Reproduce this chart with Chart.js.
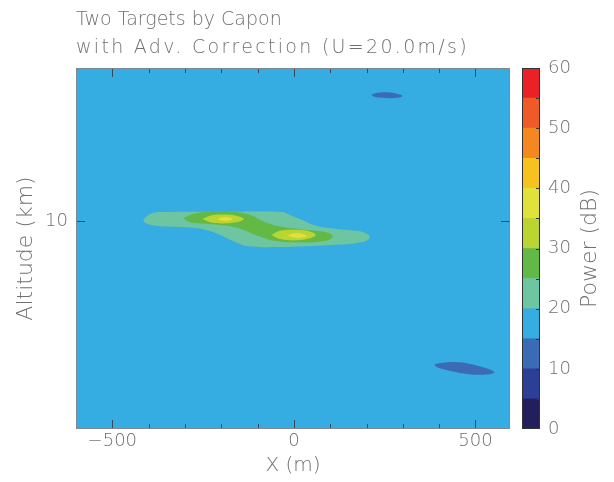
<!DOCTYPE html>
<html>
<head>
<meta charset="utf-8">
<script src="https://cdn.jsdelivr.net/npm/chart.js@4.4.0/dist/chart.umd.min.js"></script>
<style>
html, body { margin: 0; padding: 0; background: #fff; }
#wrap { position: relative; width: 614px; height: 482px; }
#wrap canvas { position: absolute; left: 0; top: 0; }
</style>
</head>
<body>
<div id="wrap">
  <canvas id="mainChart" width="614" height="482"></canvas>
  <canvas id="barChart" width="614" height="482"></canvas>
</div>
<script>
// titles and axes
const titleLines = ["Two Targets by Capon", "with Adv. Correction (U=20.0m/s)"];
const xRange = [-600, 595];
const yRange = [8.85, 10.85];
const xMajorTicks = [-500, 0, 500];
const xMinorTicks = [-400, -300, -200, -100, 100, 200, 300, 400];
const yMajorTicks = [10];

// colour bar: 5 dB levels
const levels = [0, 5, 10, 15, 20, 25, 30, 35, 40, 45, 50, 55];
const levelColors = ["#231f5f", "#2b3f97", "#3a6bb4", "#35ade3", "#6dc6a1", "#63b946",
                     "#bad432", "#e1e13b", "#f5c21f", "#f38820", "#ef5a26", "#ea2226"];
const cbarLabels = [0, 10, 20, 30, 40, 50, 60];

// contour outlines  (x in m, altitude in km)
const band20 = [[-415, 10.008], [-396, 10.041], [-360, 10.052], [-200, 10.053], [-33, 10.052],
                [-11, 10.036], [16, 10.013], [63, 9.975], [146, 9.952], [190, 9.941], [209, 9.914],
                [190, 9.886], [99, 9.869], [-38, 9.858], [-129, 9.864], [-162, 9.886],
                [-223, 9.941], [-272, 9.964], [-376, 9.975], [-409, 9.991]];
const band25 = [[-305, 10.019], [-266, 10.047], [-176, 10.053], [-120, 10.036], [-80, 9.997],
                [-38, 9.972], [25, 9.955], [91, 9.938], [107, 9.914], [80, 9.890], [8, 9.884],
                [-58, 9.895], [-102, 9.922], [-157, 9.965], [-223, 9.984], [-286, 9.995]];
const band30a = [[-252, 10.013], [-231, 10.032], [-198, 10.038], [-159, 10.032], [-138, 10.013],
                 [-159, 9.995], [-198, 9.989], [-231, 9.995]];
const band30b = [[-62, 9.925], [-38, 9.948], [-3, 9.954], [36, 9.948], [60, 9.925],
                 [36, 9.902], [-3, 9.895], [-38, 9.902]];
const band35a = [[-212, 10.013], [-190, 10.025], [-168, 10.013], [-190, 10.002]];
const band35b = [[-19, 9.922], [8, 9.936], [36, 9.919], [8, 9.908]];
const band10a = [[212, 10.703], [236, 10.714], [264, 10.714], [291, 10.703], [299, 10.694],
                 [277, 10.684], [250, 10.684], [223, 10.689]];
const band10b = [[387, 9.210], [437, 9.221], [492, 9.207], [552, 9.166], [530, 9.152],
                 [475, 9.155], [420, 9.177], [393, 9.193]];

const contours = [
  { level: 20, pts: band20 },
  { level: 25, pts: band25 },
  { level: 30, pts: band30a },
  { level: 30, pts: band30b },
  { level: 35, pts: band35a },
  { level: 35, pts: band35b },
  { level: 10, pts: band10a },
  { level: 10, pts: band10b }
];

const textColor = "#707070";
const fontFamily = "'DejaVu Sans', sans-serif";
const colorOf = lv => levelColors[levels.indexOf(lv)];
const fmtTick = v => (v < 0 ? "\u2212" + Math.abs(v) : String(v));

const toPoints = pts => {
  const out = pts.map(p => ({ x: p[0], y: p[1] }));
  out.push({ x: pts[0][0], y: pts[0][1] });
  return out;
};

// background level (15-20 dB) + frame + inward ticks + title
const plotDecor = {
  id: "plotDecor",
  beforeDatasetsDraw(chart) {
    const a = chart.chartArea, c = chart.ctx;
    c.save();
    c.fillStyle = colorOf(15);
    c.fillRect(a.left, a.top, a.right - a.left, a.bottom - a.top);
    c.restore();
  },
  afterDatasetsDraw(chart) {
    const a = chart.chartArea, c = chart.ctx;
    const xs = chart.scales.x, ys = chart.scales.y;
    c.save();
    c.strokeStyle = "#3a4a55";
    c.lineWidth = 1;
    c.beginPath();
    const tick = (v, len) => {
      const px = Math.round(xs.getPixelForValue(v)) + 0.5;
      c.moveTo(px, a.bottom); c.lineTo(px, a.bottom - len);
      c.moveTo(px, a.top); c.lineTo(px, a.top + len);
    };
    xMajorTicks.forEach(v => tick(v, 9));
    xMinorTicks.forEach(v => tick(v, 5));
    yMajorTicks.forEach(v => {
      const py = Math.round(ys.getPixelForValue(v)) + 0.5;
      c.moveTo(a.left, py); c.lineTo(a.left + 9, py);
      c.moveTo(a.right, py); c.lineTo(a.right - 9, py);
    });
    c.stroke();
    c.strokeStyle = "#7d8890";
    c.strokeRect(a.left + 0.5, a.top + 0.5, a.right - a.left - 1, a.bottom - a.top - 1);
    c.restore();
  },
  afterDraw(chart) {
    const c = chart.ctx;
    c.save();
    c.fillStyle = textColor;
    c.font = "200 19px " + fontFamily;
    c.textBaseline = "alphabetic";
    c.fillText(titleLines[0], chart.chartArea.left, 25);
    c.letterSpacing = "2.3px";
    c.fillText(titleLines[1], chart.chartArea.left, 53);
    c.restore();
  }
};

new Chart(document.getElementById("mainChart"), {
  type: "line",
  data: {
    datasets: contours.map((ct, i) => ({
      data: toPoints(ct.pts),
      backgroundColor: colorOf(ct.level),
      borderWidth: 0,
      pointRadius: 0,
      fill: "shape",
      tension: 0.4,
      order: contours.length - i
    }))
  },
  options: {
    responsive: false,
    animation: false,
    layout: { padding: { top: 68, right: 104, left: 0, bottom: 0 } },
    plugins: { legend: { display: false }, tooltip: { enabled: false } },
    scales: {
      x: {
        type: "linear",
        min: xRange[0], max: xRange[1],
        grid: { display: false, drawTicks: false }, border: { display: false },
        afterBuildTicks: s => { s.ticks = xMajorTicks.map(v => ({ value: v })); },
        afterFit: s => { s.height = 53; },
        ticks: { color: textColor, padding: 2, maxRotation: 0, callback: fmtTick,
                 font: { family: fontFamily, size: 18, weight: 200 } },
        title: { display: true, text: "X (m)", color: textColor, padding: { top: 0, bottom: 4 },
                 font: { family: fontFamily, size: 20, weight: 200 } }
      },
      y: {
        type: "linear",
        min: yRange[0], max: yRange[1],
        grid: { display: false, drawTicks: false }, border: { display: false },
        afterBuildTicks: s => { s.ticks = yMajorTicks.map(v => ({ value: v })); },
        afterFit: s => { s.width = 76; },
        ticks: { color: textColor, padding: 8,
                 font: { family: fontFamily, size: 18, weight: 200 } },
        title: { display: true, text: "Altitude (km)", color: textColor, padding: { top: 13, bottom: 0 },
                 font: { family: fontFamily, size: 22, weight: 200 } }
      }
    }
  },
  plugins: [plotDecor]
});

// colour bar
const cbarDecor = {
  id: "cbarDecor",
  afterDatasetsDraw(chart) {
    const a = chart.chartArea, c = chart.ctx, ys = chart.scales.y;
    c.save();
    c.strokeStyle = "#333";
    c.lineWidth = 1;
    c.beginPath();
    levels.slice(1).forEach(v => {
      const py = Math.round(ys.getPixelForValue(v)) + 0.5;
      c.moveTo(a.right, py); c.lineTo(a.right - 4, py);
    });
    c.stroke();
    c.strokeRect(a.left + 0.5, a.top + 0.5, a.right - a.left - 1, a.bottom - a.top - 1);
    c.fillStyle = textColor;
    c.font = "200 22px " + fontFamily;
    c.textAlign = "center";
    c.textBaseline = "middle";
    c.translate(590, (a.top + a.bottom) / 2);
    c.rotate(-Math.PI / 2);
    c.fillText("Power (dB)", 0, 0);
    c.restore();
  }
};

new Chart(document.getElementById("barChart"), {
  type: "bar",
  data: {
    labels: [""],
    datasets: levels.map((lv, i) => ({
      data: [5],
      backgroundColor: levelColors[i],
      borderWidth: 0,
      barPercentage: 1,
      categoryPercentage: 1,
      stack: "cbar"
    }))
  },
  options: {
    responsive: false,
    animation: false,
    layout: { padding: { top: 68, left: 522, bottom: 53, right: 0 } },
    plugins: { legend: { display: false }, tooltip: { enabled: false } },
    scales: {
      x: { stacked: true, display: false },
      y: {
        stacked: true,
        position: "right",
        min: 0, max: 60,
        grid: { display: false, drawTicks: false }, border: { display: false },
        afterBuildTicks: s => { s.ticks = cbarLabels.map(v => ({ value: v })); },
        afterFit: s => { s.width = 74; },
        ticks: { color: textColor, padding: 8,
                 font: { family: fontFamily, size: 18, weight: 200 } }
      }
    }
  },
  plugins: [cbarDecor]
});
</script>
</body>
</html>
